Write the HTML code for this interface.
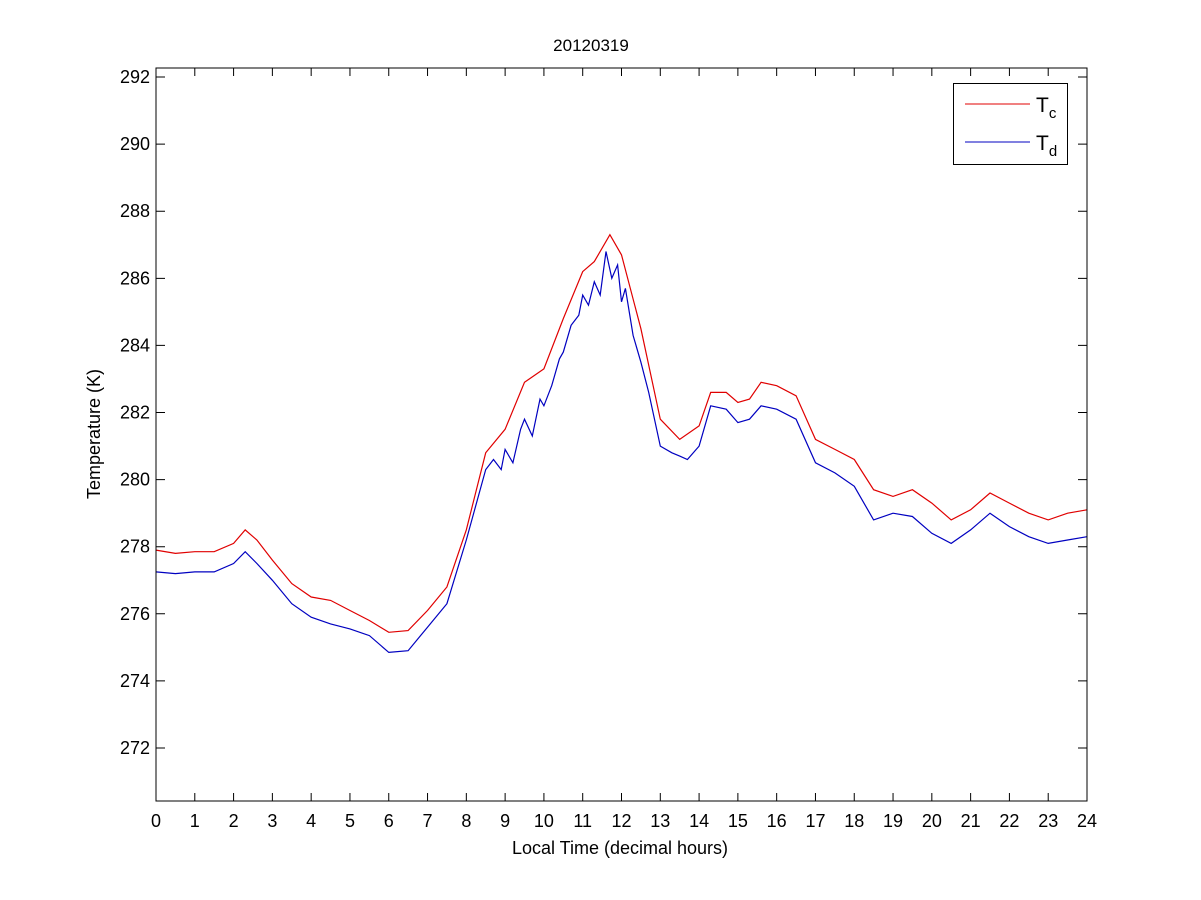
<!DOCTYPE html>
<html><head><meta charset="utf-8"><style>
html,body{margin:0;padding:0;background:#fff;width:1201px;height:900px;overflow:hidden}
svg{display:block;font-family:"Liberation Sans",Arial,sans-serif}
</style></head><body>
<svg id="chart" width="1201" height="900" viewBox="0 0 1201 900">
<rect x="0" y="0" width="1201" height="900" fill="#fff"/>
<text x="591" y="51" font-size="17" text-anchor="middle">20120319</text>
<text x="620" y="854" font-size="18" text-anchor="middle">Local Time (decimal hours)</text>
<text transform="translate(100,434) rotate(-90)" font-size="18" text-anchor="middle">Temperature (K)</text>
<g id="ticks"></g>
<g id="series"></g>
<rect x="156" y="68" width="931" height="733" fill="none" stroke="#000" stroke-width="1"/>
<g>
<rect x="953.5" y="83.5" width="114" height="81" fill="#fff" stroke="#000"/>
<line x1="965" y1="104" x2="1030" y2="104" stroke="#e00000"/>
<text x="1036" y="112" font-size="21">T<tspan font-size="15" dy="6">c</tspan></text>
<line x1="965" y1="142" x2="1030" y2="142" stroke="#0000c0"/>
<text x="1036" y="150" font-size="21">T<tspan font-size="15" dy="6">d</tspan></text>
</g>
</svg>
<script>
const xTicks=[0,1,2,3,4,5,6,7,8,9,10,11,12,13,14,15,16,17,18,19,20,21,22,23,24];
const yTicks=[272,274,276,278,280,282,284,286,288,290,292];
const hours=[0,0.5,1,1.5,2,2.3,2.6,3,3.5,4,4.5,5,5.5,6,6.5,7,7.5,8,8.5,9,9.5,10,10.5,11,11.3,11.7,12,12.5,13,13.5,14,14.3,14.7,15,15.3,15.6,16,16.5,17,17.5,18,18.5,19,19.5,20,20.5,21,21.5,22,22.5,23,23.5,24];
const tc=[277.9,277.8,277.85,277.85,278.1,278.5,278.2,277.6,276.9,276.5,276.4,276.1,275.8,275.45,275.5,276.1,276.8,278.5,280.8,281.5,282.9,283.3,284.8,286.2,286.5,287.3,286.7,284.5,281.8,281.2,281.6,282.6,282.6,282.3,282.4,282.9,282.8,282.5,281.2,280.9,280.6,279.7,279.5,279.7,279.3,278.8,279.1,279.6,279.3,279.0,278.8,279.0,279.1];
const tdHours=[0,0.5,1,1.5,2,2.3,2.6,3,3.5,4,4.5,5,5.5,6,6.5,7,7.5,8,8.5,8.7,8.9,9,9.2,9.4,9.5,9.7,9.9,10,10.2,10.4,10.5,10.7,10.9,11,11.15,11.3,11.45,11.6,11.75,11.9,12,12.1,12.3,12.5,12.7,13,13.3,13.5,13.7,14,14.3,14.7,15,15.3,15.6,16,16.5,17,17.5,18,18.5,19,19.5,20,20.5,21,21.5,22,22.5,23,23.5,24];
const td=[277.25,277.2,277.25,277.25,277.5,277.85,277.5,277.0,276.3,275.9,275.7,275.55,275.35,274.85,274.9,275.6,276.3,278.2,280.3,280.6,280.3,280.9,280.5,281.5,281.8,281.3,282.4,282.2,282.8,283.6,283.8,284.6,284.9,285.5,285.2,285.9,285.5,286.8,286.0,286.4,285.3,285.7,284.3,283.5,282.6,281.0,280.8,280.7,280.6,281.0,282.2,282.1,281.7,281.8,282.2,282.1,281.8,280.5,280.2,279.8,278.8,279.0,278.9,278.4,278.1,278.5,279.0,278.6,278.3,278.1,278.2,278.3];
const X0=156,X1=1087,Y0=801,Y1=68;
const XMIN=0,XMAX=24,YMIN=270.42,YMAX=292.27;
function sx(v){return X0+(v-XMIN)/(XMAX-XMIN)*(X1-X0);}
function sy(v){return Y0-(v-YMIN)/(YMAX-YMIN)*(Y0-Y1);}
const NS='http://www.w3.org/2000/svg';
const tg=document.getElementById('ticks');
xTicks.forEach(t=>{
  const x=sx(t);
  const l=document.createElementNS(NS,'path');
  l.setAttribute('d',`M${x},${Y0}v-8M${x},${Y1}v8`);
  l.setAttribute('stroke','#000');
  
  
  tg.appendChild(l);
  const tx=document.createElementNS(NS,'text');
  tx.setAttribute('x',x);tx.setAttribute('y',827);
  tx.setAttribute('font-size','18');tx.setAttribute('text-anchor','middle');
  tx.textContent=t;
  
  
  tg.appendChild(tx);
});
yTicks.forEach(t=>{
  const y=sy(t);
  const l=document.createElementNS(NS,'path');
  l.setAttribute('d',`M${X0},${y}h9M${X1},${y}h-9`);
  l.setAttribute('stroke','#000');
  
  
  tg.appendChild(l);
  const tx=document.createElementNS(NS,'text');
  tx.setAttribute('x',150);tx.setAttribute('y',y+6);
  tx.setAttribute('font-size','18');tx.setAttribute('text-anchor','end');
  tx.textContent=t;
  
  
  tg.appendChild(tx);
});
const sg=document.getElementById('series');
function line(xs,ys,color,name){
  const p=document.createElementNS(NS,'path');
  p.setAttribute('d',xs.map((h,i)=>(i?'L':'M')+sx(h).toFixed(1)+','+sy(ys[i]).toFixed(1)).join(''));
  p.setAttribute('fill','none');p.setAttribute('stroke',color);p.setAttribute('stroke-width','1.2');
  
  
  sg.appendChild(p);
}
line(tdHours,td,'#0000c0','td-line');
line(hours,tc,'#e00000','tc-line');
</script>
</body></html>
